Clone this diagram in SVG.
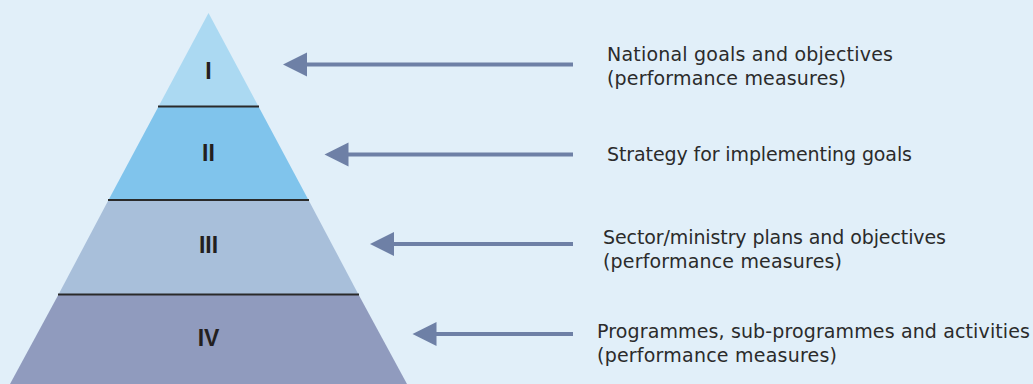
<svg xmlns="http://www.w3.org/2000/svg" width="1033" height="384" viewBox="0 0 1033 384">
<style>
.lbl{font-family:"DejaVu Sans","Liberation Sans",sans-serif;font-size:19px;fill:#2b2b2b}
.num{font-family:"Liberation Sans",Arial,sans-serif;font-size:23px;font-weight:bold;fill:#231f20;text-anchor:middle}
.div{stroke:#2a2a2a;stroke-width:2}
.arr{stroke:#6e80a6;stroke-width:4;fill:none}
.head{fill:#6e80a6}
</style>
<rect x="0" y="0" width="1033" height="384" fill="#e1eff9"/>
<g id="tier1">
<polygon points="208.5,13 258.5,106.5 158.5,106.5" fill="#abd9f2"/>
<text class="num" x="208.5" y="79">I</text>
</g>
<g id="tier2">
<polygon points="158.5,106.5 258.5,106.5 308.5,200 108.5,200" fill="#80c4ec"/>
<text class="num" x="208.5" y="161">II</text>
</g>
<g id="tier3">
<polygon points="108.5,200 308.5,200 358.5,294.5 58.5,294.5" fill="#a8bfda"/>
<text class="num" x="208.5" y="252.5">III</text>
</g>
<g id="tier4">
<polygon points="58.5,294.5 358.5,294.5 407,384 10,384" fill="#909bbe"/>
<text class="num" x="208.5" y="346">IV</text>
</g>
<g id="dividers">
<line class="div" x1="158" y1="106.5" x2="259" y2="106.5"/>
<line class="div" x1="108" y1="200" x2="309" y2="200"/>
<line class="div" x1="58" y1="294.5" x2="359" y2="294.5"/>
</g>
<g id="connectors">
<line class="arr" x1="305" y1="64.5" x2="573" y2="64.5"/>
<polygon class="head" points="283,64.5 307,52.5 307,76.5"/>
<line class="arr" x1="346" y1="154.5" x2="573" y2="154.5"/>
<polygon class="head" points="324.5,154.5 348.5,142.5 348.5,166.5"/>
<line class="arr" x1="392" y1="244" x2="573" y2="244"/>
<polygon class="head" points="370,244 394,232 394,256"/>
<line class="arr" x1="434" y1="334" x2="573" y2="334"/>
<polygon class="head" points="412.5,334 436.5,322 436.5,346"/>
</g>
<g id="label1">
<text class="lbl" x="607" y="60.5" textLength="286">National goals and objectives</text>
<text class="lbl" x="607" y="85" textLength="239">(performance measures)</text>
</g>
<g id="label2">
<text class="lbl" x="607" y="161" textLength="305">Strategy for implementing goals</text>
</g>
<g id="label3">
<text class="lbl" x="603" y="243.5" textLength="343">Sector/ministry plans and objectives</text>
<text class="lbl" x="603" y="268" textLength="239">(performance measures)</text>
</g>
<g id="label4">
<text class="lbl" x="597" y="338" textLength="433">Programmes, sub-programmes and activities</text>
<text class="lbl" x="597" y="362" textLength="240">(performance measures)</text>
</g>
</svg>
